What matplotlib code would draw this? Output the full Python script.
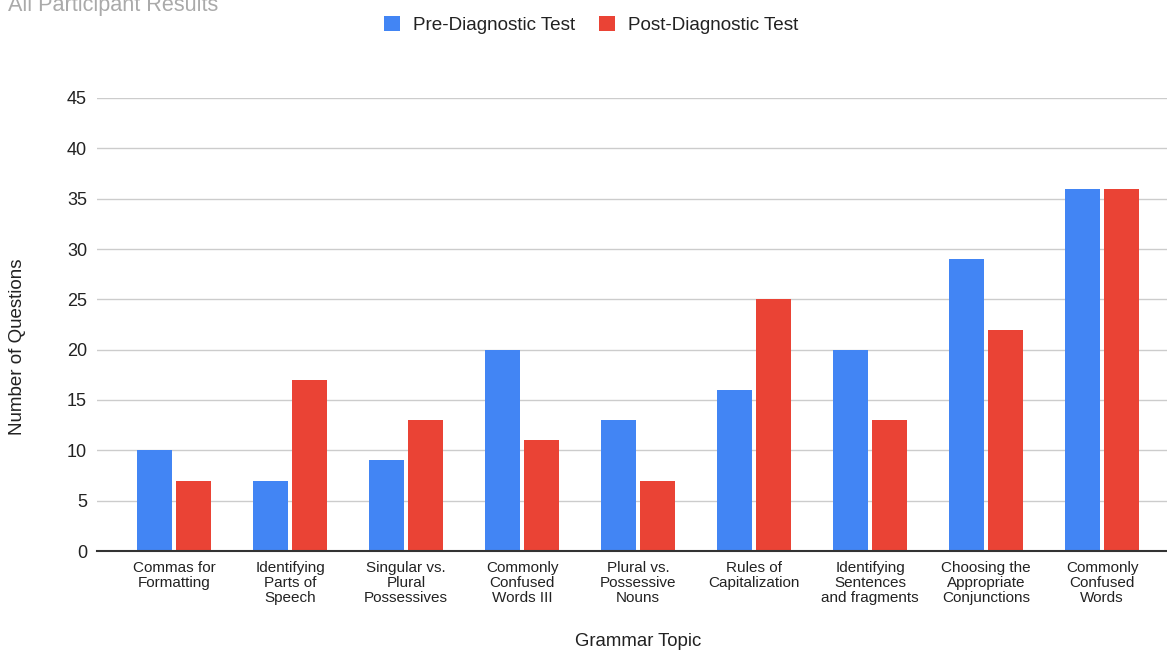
import matplotlib
matplotlib.use("Agg")
import matplotlib.pyplot as plt
import numpy as np

plt.rcParams['font.family'] = ['Liberation Sans', 'DejaVu Sans']

categories = ["Commas for\nFormatting", "Identifying\nParts of\nSpeech", "Singular vs.\nPlural\nPossessives",
              "Commonly\nConfused\nWords III", "Plural vs.\nPossessive\nNouns", "Rules of\nCapitalization",
              "Identifying\nSentences\nand fragments", "Choosing the\nAppropriate\nConjunctions",
              "Commonly\nConfused\nWords"]
pre_values = [10, 7, 9, 20, 13, 16, 20, 29, 36]
post_values = [7, 17, 13, 11, 7, 25, 13, 22, 36]
series_names = ["Pre-Diagnostic Test", "Post-Diagnostic Test"]
yticks = [0, 5, 10, 15, 20, 25, 30, 35, 40, 45]

BLUE = "#4285F4"
RED = "#EA4335"

fig = plt.figure(figsize=(11.67, 6.5), dpi=100)
ax = fig.add_axes([97/1167, 1-551/650, 1-97/1167, (551-98)/650])

x = np.arange(len(categories))
w = 0.305
off = 0.168
ax.bar(x - off, pre_values, w, color=BLUE, label=series_names[0], zorder=3)
ax.bar(x + off, post_values, w, color=RED, label=series_names[1], zorder=3)

ax.set_xlim(-0.664, 8.56)
ax.set_ylim(0, 45)
ax.set_yticks(yticks)
ax.yaxis.grid(True, color="#cccccc", linewidth=1, zorder=0)
ax.set_axisbelow(True)
for s in ["top", "right", "left"]:
    ax.spines[s].set_visible(False)
ax.spines["bottom"].set_color("#333333")
ax.spines["bottom"].set_linewidth(1.5)
ax.spines["bottom"].set_zorder(4)
ax.tick_params(axis="y", length=0, pad=7.2, labelsize=13, labelcolor="#222222")
ax.tick_params(axis="x", length=0, pad=7, labelsize=11, labelcolor="#222222")
ax.set_xticks(x)
ax.set_xticklabels(categories, linespacing=1.12)

fig.text(18/1167, 1-347/650, "Number of Questions", rotation=90, ha="center", va="center",
         fontsize=13.5, color="#222222")
fig.text(638/1167, 1-641/650, "Grammar Topic", ha="center", va="center",
         fontsize=13.4, color="#222222")
fig.text(8/1167, 1-10.5/650, "All Participant Results", ha="left", va="baseline",
         fontsize=15.6, color="#aaaaaa")

fig.legend(loc="center", bbox_to_anchor=(591/1167, 1-25/650), ncol=2, frameon=False,
           fontsize=13.6, handlelength=0.85, handleheight=0.85, handletextpad=0.69,
           columnspacing=1.27, labelcolor="#222222")

fig.savefig("out.png", dpi=100)
